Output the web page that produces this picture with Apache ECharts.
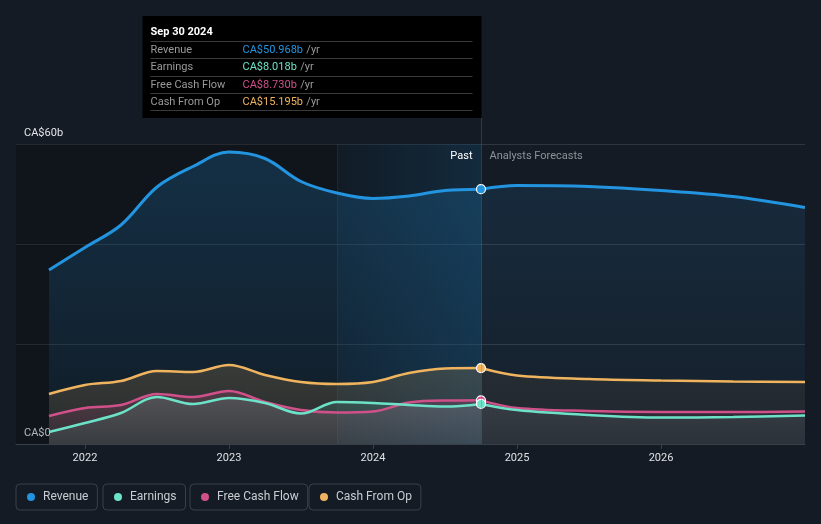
<!DOCTYPE html>
<html>
<head>
<meta charset="utf-8">
<script src="https://cdn.jsdelivr.net/npm/echarts@6/dist/echarts.min.js"></script>
<style>
html,body{margin:0;padding:0;background:#151b24;}
#c{width:821px;height:524px;}
</style>
</head>
<body>
<div id="c"></div>
<script>
// ---- data ----
const seriesNames = ['Revenue', 'Earnings', 'Free Cash Flow', 'Cash From Op'];
const seriesColors = ['#2394df', '#6ce3c8', '#d0508a', '#f0b45e'];
const pastDates = [2021.75, 2022.0, 2022.25, 2022.5, 2022.75, 2023.0, 2023.25, 2023.5, 2023.75, 2024.0, 2024.25, 2024.5, 2024.75];
const revenuePast  = [34.8, 39.3, 43.8, 51.4, 55.5, 58.4, 57.1, 52.5, 50.2, 49.1, 49.6, 50.7, 50.968];
const earningsPast = [2.4, 4.2, 6.2, 9.4, 8.0, 9.2, 8.2, 6.1, 8.4, 8.2, 7.8, 7.5, 8.018];
const fcfPast      = [5.6, 7.2, 7.8, 10.0, 9.4, 10.6, 8.4, 6.8, 6.3, 6.5, 8.3, 8.7, 8.730];
const cfoPast      = [10.0, 11.8, 12.6, 14.6, 14.4, 15.8, 13.8, 12.4, 12.0, 12.4, 14.2, 15.1, 15.195];
const forecastDates = [2024.75, 2025.0, 2025.5, 2026.0, 2026.5, 2027.0];
const revenueFc  = [50.968, 51.7, 51.5, 50.7, 49.5, 47.3];
const earningsFc = [8.018, 6.8, 5.8, 5.3, 5.4, 5.7];
const fcfFc      = [8.730, 7.2, 6.6, 6.4, 6.4, 6.5];
const cfoFc      = [15.195, 13.7, 13.0, 12.7, 12.5, 12.4];
const yearTicks = [2022, 2023, 2024, 2025, 2026];
const yTickLabels = {0: 'CA$0', 60: 'CA$60b'};
const tooltipTitle = 'Sep 30 2024';
const nowDate = 2024.75;
const bandStart = 2023.75;
const xMin = 2021.521, xMax = 2027.0;

const pastVals = [revenuePast, earningsPast, fcfPast, cfoPast];
const fcVals = [revenueFc, earningsFc, fcfFc, cfoFc];

function rgba(hex, a) {
  const n = parseInt(hex.slice(1), 16);
  return 'rgba(' + (n >> 16 & 255) + ',' + (n >> 8 & 255) + ',' + (n & 255) + ',' + a + ')';
}
function grad(hex, top, bot) {
  return new echarts.graphic.LinearGradient(0, 0, 0, 1, [
    {offset: 0, color: rgba(hex, top)}, {offset: 1, color: rgba(hex, bot)}
  ]);
}

const pastAlpha = [[0.30, 0.08], [0.20, 0.12], [0.28, 0.12], [0.25, 0.12]];
const fcAlpha = [[0.18, 0.05], [0.12, 0.08], [0.13, 0.07], [0.10, 0.06]];
const widths = [3, 2.5, 2.5, 2.5];
const drawOrder = [0, 3, 2, 1];

const series = [];
series.push({
  type: 'line', name: '_bg', data: [[nowDate, 0]], symbol: 'none', silent: true, z: 1,
  lineStyle: {opacity: 0}, legendHoverLink: false,
  markArea: {
    silent: true,
    data: [
      [{xAxis: xMin, itemStyle: {color: 'rgba(0,0,0,0.22)'}}, {xAxis: nowDate}],
      [{xAxis: bandStart, itemStyle: {color: new echarts.graphic.LinearGradient(0, 0, 1, 0, [
        {offset: 0, color: 'rgba(35,148,223,0.05)'}, {offset: 1, color: 'rgba(35,148,223,0.17)'}])}}, {xAxis: nowDate}]
    ]
  },
  markLine: {
    silent: true, symbol: 'none', label: {show: false},
    lineStyle: {color: 'rgba(35,148,223,0.12)', type: 'solid', width: 1},
    data: [{xAxis: bandStart}]
  }
});
drawOrder.forEach(function (i) {
  const c = seriesColors[i];
  const pd = pastDates.map(function (d, k) {
    if (k === pastDates.length - 1) {
      return {value: [d, pastVals[i][k]], symbol: 'circle', symbolSize: 9,
        itemStyle: {color: c, borderColor: '#ffffff', borderWidth: 1.2}};
    }
    return [d, pastVals[i][k]];
  });
  series.push({
    type: 'line', name: seriesNames[i], data: pd, smooth: 0.35, symbol: 'none', showSymbol: true,
    z: 3 + (i === 0 ? 0 : 1), lineStyle: {color: c, width: widths[i]}, itemStyle: {color: c},
    areaStyle: {color: grad(c, pastAlpha[i][0], pastAlpha[i][1]), origin: 'start'},
    emphasis: {disabled: true}
  });
  series.push({
    type: 'line', name: seriesNames[i], data: forecastDates.map(function (d, k) { return [d, fcVals[i][k]]; }),
    smooth: 0.35, symbol: 'none', showSymbol: false, z: 2 + (i === 0 ? 0 : 1),
    lineStyle: {color: c, width: widths[i]}, itemStyle: {color: c},
    areaStyle: {color: grad(c, fcAlpha[i][0], fcAlpha[i][1]), origin: 'start'},
    emphasis: {disabled: true}
  });
});

const legendLefts = [16, 103, 190, 309];
const legends = seriesNames.map(function (n, i) {
  return {
    data: [{name: n, itemStyle: {color: seriesColors[i]}}], left: legendLefts[i], top: 484,
    padding: [7, 9, 7, 11], borderColor: '#3a404b', borderWidth: 1, borderRadius: 4,
    icon: 'circle', itemWidth: 8, itemHeight: 8, selectedMode: false,
    textStyle: {color: '#c9cdd3', fontSize: 12, fontFamily: 'Roboto', padding: [0, 0, 0, 3]}
  };
});

const chart = echarts.init(document.getElementById('c'), null, {renderer: 'canvas'});
chart.setOption({
  backgroundColor: '#151b24',
  animation: false,
  textStyle: {fontFamily: 'Roboto'},
  grid: {left: 16, right: 16, top: 144, bottom: 80, containLabel: false},
  legend: legends,
  xAxis: {
    type: 'value', min: xMin, max: xMax,
    axisLine: {show: true, lineStyle: {color: '#3a3f48', width: 1}},
    axisTick: {show: true, customValues: yearTicks, length: 5, lineStyle: {color: '#3a3f48'}},
    axisLabel: {customValues: yearTicks, color: '#dfe1e4', fontSize: 11, margin: 9,
      formatter: function (v) { return String(Math.round(v)); }},
    splitLine: {show: false}
  },
  yAxis: {
    type: 'value', min: 0, max: 60, interval: 20,
    axisLine: {show: false}, axisTick: {show: false},
    axisLabel: {inside: true, margin: 8, color: '#e3e5e8', fontSize: 11, verticalAlign: 'bottom',
      padding: [0, 0, 5, 0],
      formatter: function (v) { return yTickLabels[v] || ''; }},
    splitLine: {lineStyle: {color: '#30363f', width: 1}}
  },
  series: series
});

const pNow = chart.convertToPixel({gridIndex: 0}, [nowDate, 60]);
const pBase = chart.convertToPixel({gridIndex: 0}, [nowDate, 0]);
const lx = Math.round(pNow[0]) + 0.5;
const boxW = 339, boxTop = 16, boxH = 102;
const boxL = lx - boxW;
const g = [];
g.push({type: 'line', shape: {x1: lx, y1: boxTop + boxH, x2: lx, y2: pBase[1]},
  style: {stroke: 'rgba(70,130,180,0.35)', lineWidth: 1}, z: 50, silent: true});
g.push({type: 'rect', shape: {x: boxL, y: boxTop, width: boxW, height: boxH},
  style: {fill: '#000000'}, z: 100, silent: true});
g.push({type: 'text', x: boxL + 8, y: boxTop + 16, z: 101, silent: true,
  style: {text: tooltipTitle, fill: '#ffffff', font: 'bold 11px Roboto', verticalAlign: 'middle'}});
const rowY = [34, 51.5, 69, 86];
const sepY = [25, 42, 60, 77, 94];
sepY.forEach(function (y) {
  g.push({type: 'line', shape: {x1: boxL + 8, y1: boxTop + y + 0.5, x2: boxL + boxW - 9, y2: boxTop + y + 0.5},
    style: {stroke: '#3a3a3a', lineWidth: 1}, z: 101, silent: true});
});
seriesNames.forEach(function (n, i) {
  const v = pastVals[i][pastVals[i].length - 1];
  g.push({type: 'text', x: boxL + 8, y: boxTop + rowY[i], z: 101, silent: true,
    style: {text: n, fill: '#9a9a9a', font: '11px Roboto', verticalAlign: 'middle'}});
  g.push({type: 'text', x: boxL + 100, y: boxTop + rowY[i], z: 101, silent: true,
    style: {text: '{v|CA$' + v.toFixed(3) + 'b} {u|/yr}', verticalAlign: 'middle',
      rich: {v: {fill: seriesColors[i], font: '11px Roboto'}, u: {fill: '#9a9a9a', font: '11px Roboto'}}}});
});
const topY = pNow[1];
g.push({type: 'text', x: lx - 9, y: topY + 12, z: 60, silent: true,
  style: {text: 'Past', fill: '#ffffff', font: '11px Roboto', align: 'right', verticalAlign: 'middle'}});
g.push({type: 'text', x: lx + 8, y: topY + 12, z: 60, silent: true,
  style: {text: 'Analysts Forecasts', fill: '#8d929a', font: '11px Roboto', align: 'left', verticalAlign: 'middle'}});
chart.setOption({graphic: g});
</script>
</body>
</html>
